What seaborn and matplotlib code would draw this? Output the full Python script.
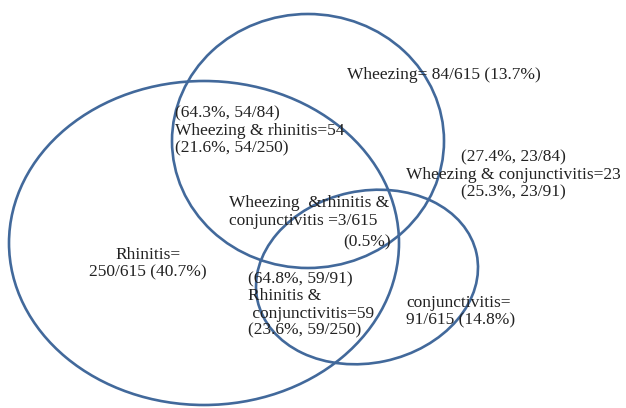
import seaborn as sns
import matplotlib.pyplot as plt
from matplotlib.patches import Ellipse

# counts out of the whole sample
total = 615
wheezing = 84
rhinitis = 250
conjunctivitis = 91
wheeze_rhin = 54
wheeze_conj = 23
rhin_conj = 59
all_three = 3

# set outlines in pixel space: (cx, cy, width, height, angle)
set_names = ['Rhinitis', 'Wheezing', 'conjunctivitis']
set_shapes = [(204, 243, 390, 324, 0),
              (308, 141, 272, 254, 0),
              (367, 277, 224, 172, -12)]


def pct(a, b):
    return '%.1f%%' % (100.0 * a / b)


sns.set_style('white')
plt.rcParams['font.family'] = ['Liberation Serif', 'DejaVu Serif']

fig = plt.figure(figsize=(6.26, 4.08), dpi=100)
ax = fig.add_axes([0, 0, 1, 1])
ax.set_xlim(0, 626)
ax.set_ylim(408, 0)
ax.axis('off')

edge = '#42699b'
for name, (cx, cy, w, h, ang) in zip(set_names, set_shapes):
    ax.add_patch(Ellipse((cx, cy), w, h, angle=ang, fill=False,
                         edgecolor=edge, linewidth=1.9))

txt = dict(fontsize=12.5, color='#222222', va='center', linespacing=1.1)

ax.text(347, 75, 'Wheezing= %d/%d (%s)' % (wheezing, total, pct(wheezing, total)),
        ha='left', **txt)

ax.text(175, 131, '(%s, %d/%d)\nWheezing & rhinitis=%d\n(%s, %d/%d)' % (
    pct(wheeze_rhin, wheezing), wheeze_rhin, wheezing, wheeze_rhin,
    pct(wheeze_rhin, rhinitis), wheeze_rhin, rhinitis), ha='left', **txt)

ax.text(513, 175, '(%s, %d/%d)\nWheezing & conjunctivitis=%d\n(%s, %d/%d)' % (
    pct(wheeze_conj, wheezing), wheeze_conj, wheezing, wheeze_conj,
    pct(wheeze_conj, conjunctivitis), wheeze_conj, conjunctivitis),
    ha='center', **txt)

ax.text(229, 212, 'Wheezing  &rhinitis &\nconjunctivitis =%d/%d' % (all_three, total),
        ha='left', **txt)
ax.text(343, 242, '(%s)' % pct(all_three, total), ha='left', **txt)

ax.text(148, 264, 'Rhinitis=\n%d/%d (%s)' % (rhinitis, total, pct(rhinitis, total)),
        ha='center', **txt)

ax.text(248, 305, '(%s, %d/%d)\nRhinitis &\n conjunctivitis=%d\n(%s, %d/%d)' % (
    pct(rhin_conj, conjunctivitis), rhin_conj, conjunctivitis, rhin_conj,
    pct(rhin_conj, rhinitis), rhin_conj, rhinitis), ha='left', **txt)

ax.text(406, 312, 'conjunctivitis=\n%d/%d (%s)' % (
    conjunctivitis, total, pct(conjunctivitis, total)), ha='left', **txt)

fig.savefig('out.png', dpi=100)
